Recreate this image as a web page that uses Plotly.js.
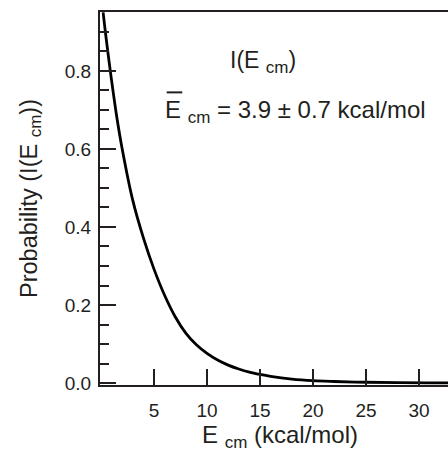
<!DOCTYPE html>
<html>
<head>
<meta charset="utf-8">
<script src="https://cdn.plot.ly/plotly-3.0.1.min.js"></script>
<style>
  html, body { margin: 0; padding: 0; overflow: hidden; background: #fff; }
  #chart { width: 460px; height: 454px; }
</style>
</head>
<body>
<div id="chart"></div>
<script>
// Collision energy (kcal/mol) and probability
const energy = [0.2, 0.5, 1, 1.5, 2, 3, 4, 5, 6, 7, 8, 9, 10, 11, 12, 13, 14, 15, 16, 18, 20, 22, 25, 28, 31, 34];
const probability = [0.95, 0.88, 0.775, 0.68, 0.60, 0.468, 0.372, 0.292, 0.225, 0.170, 0.128, 0.098, 0.076, 0.059, 0.046, 0.036, 0.028, 0.022, 0.017, 0.010, 0.006, 0.004, 0.002, 0.001, 0.0005, 0.0003];

const xTickVals = [5, 10, 15, 20, 25, 30];
const xTickText = ['5', '10', '15', '20', '25', '30'];
const yTickVals = [0.0, 0.2, 0.4, 0.6, 0.8];
const yTickText = ['0.0', '0.2', '0.4', '0.6', '0.8'];

const ink = '#231f20';
const font = 'Liberation Sans, Arial, Helvetica, sans-serif';

const trace = {
  x: energy,
  y: probability,
  type: 'scatter',
  mode: 'lines',
  line: { color: '#000', width: 2.8, shape: 'spline', smoothing: 1 },
  hoverinfo: 'skip',
  showlegend: false
};

const layout = {
  width: 460,
  height: 454,
  margin: { l: 100, r: 0, t: 12, b: 69 },
  paper_bgcolor: '#fff',
  plot_bgcolor: '#fff',
  font: { family: font, color: ink, size: 19 },
  showlegend: false,
  xaxis: {
    range: [-0.094, 33.87],
    showgrid: false,
    zeroline: false,
    showline: true,
    linecolor: ink,
    linewidth: 2,
    mirror: true,
    ticks: 'inside',
    ticklen: 16,
    tickwidth: 2,
    tickcolor: ink,
    tickvals: xTickVals,
    ticktext: xTickText,
    ticklabelstandoff: 7,
    tickfont: { family: font, size: 19, color: ink },
    title: { text: 'E <sub><span style="font-size:17px">cm</span></sub> (kcal/mol)', font: { family: font, size: 24, color: ink }, standoff: 6 }
  },
  yaxis: {
    range: [-0.005, 0.951],
    showgrid: false,
    zeroline: false,
    showline: true,
    linecolor: ink,
    linewidth: 2,
    ticks: 'inside',
    ticklen: 16,
    tickwidth: 2,
    tickcolor: ink,
    tickvals: yTickVals,
    ticktext: yTickText,
    ticklabelstandoff: 3,
    tickfont: { family: font, size: 19, color: ink },
    minor: { dtick: 0.05, tick0: 0, ticks: 'inside', ticklen: 9, tickwidth: 2, tickcolor: ink, showgrid: false },
    title: { text: 'Probability (I(E <sub><span style="font-size:17px">cm</span></sub>))', font: { family: font, size: 23.5, color: ink }, standoff: 21 }
  },
  annotations: [
    {
      x: 11.95, y: 0.823, xref: 'x', yref: 'y',
      xanchor: 'left', yanchor: 'middle',
      text: 'I(E <sub><span style="font-size:17px">cm</span></sub>)',
      showarrow: false,
      font: { family: font, size: 23, color: ink }
    },
    {
      x: 5.85, y: 0.697, xref: 'x', yref: 'y',
      xanchor: 'left', yanchor: 'middle',
      text: 'E <sub><span style="font-size:17px">cm</span></sub> = 3.9 ± 0.7 kcal/mol',
      showarrow: false,
      font: { family: font, size: 24, color: ink }
    }
  ],
  shapes: [
    {
      type: 'line', xref: 'x', yref: 'y',
      x0: 6.2, x1: 7.67, y0: 0.745, y1: 0.745,
      line: { color: ink, width: 2 }
    }
  ]
};

Plotly.newPlot('chart', [trace], layout, { staticPlot: true, displayModeBar: false });
</script>
</body>
</html>
